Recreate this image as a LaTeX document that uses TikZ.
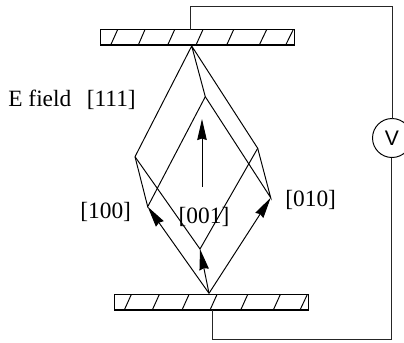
\documentclass[tikz,border=0pt]{standalone}
\usepackage{fontspec}
\setmainfont{Liberation Serif}
\setsansfont{Liberation Sans}
\usetikzlibrary{arrows.meta}
\begin{document}
\begin{tikzpicture}[x=0.02cm, y=-0.02cm,
    wire/.style={black!85, line width=0.55pt},
    edge/.style={black, line width=0.55pt},
    axis/.style={black, line width=0.55pt, -{Stealth[length=0.42cm, width=0.19cm, inset=0.03cm]}},
    plate/.style={black, line width=0.6pt},
    lab/.style={font=\fontsize{13.3}{15}\selectfont, inner sep=0pt}]
    \useasboundingbox (0,0) rectangle (404,342);

    % plates
    \draw[plate] (100.5,29.5) rectangle (294.5,45);
    \draw[plate] (114.5,294.5) rectangle (308.5,310);
    \foreach \x/\X in {110.7/117.7, 138.3/145, 167.7/174.7, 196/203, 226.7/233.7, 259.3/266.7, 285.7/293.3}
        \draw[edge] (\x,45) -- (\X,29.5);
    \foreach \x/\X in {124.3/131.3, 152.3/159.3, 182/189, 210/217, 240.7/247.7, 273.3/280.3, 300/307.3}
        \draw[edge] (\x,310) -- (\X,294.5);

    \path (191.7,46) coordinate (T);
    \path (135,156.7) coordinate (L);
    \path (257.7,148.3) coordinate (R);
    \path (205.3,96.7) coordinate (I);
    \path (147.7,206.7) coordinate (A);
    \path (270.7,197.7) coordinate (B);
    \path (200,249) coordinate (C);
    \path (209,293.3) coordinate (O);
    \path (202,186.7) coordinate (F);
    \path (202,119) coordinate (G);

    % crystal
    \draw[edge] (L) -- (T) -- (R) -- (B) -- (I) -- (T);
    \draw[edge] (L) -- (A) -- (I);
    \draw[edge] (L) -- (C) -- (R);

    \draw[axis] (F) -- (G);
    \draw[axis] (O) -- (A);
    \draw[axis] (O) -- (B);
    \draw[axis] (O) -- (C);

    % circuit
    \node[draw, circle, line width=0.55pt, minimum size=0.78cm, inner sep=0pt,
        font=\sffamily\fontsize{12}{14}\selectfont] (V) at (392,138) {V};
    \path (190,29.5) coordinate (W1);
    \path (212.7,310) coordinate (W2);
    \draw[wire] (W1) -- (190,6) -- (392.7,6) -- (392.7,118.5);
    \draw[wire] (W2) -- (212.7,339) -- (391,339) -- (391,157.5);

    \node[lab, anchor=west] (field) at (8,100) {E field\ \ \,[111]};
    \node[lab] (dirA) at (105.7,211.7) {[100]};
    \node[lab] (dirC) at (204,216.7) {[001]};
    \node[lab] (dirB) at (310.7,200) {[010]};
\end{tikzpicture}
\end{document}
